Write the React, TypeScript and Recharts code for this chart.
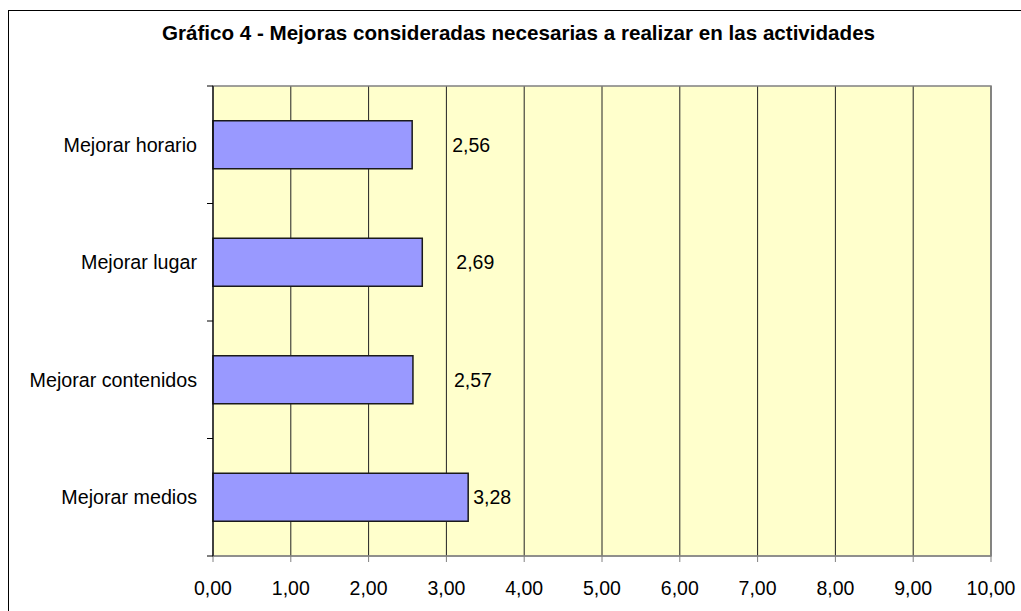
import {
  BarChart,
  Bar,
  XAxis,
  YAxis,
  CartesianGrid,
  ReferenceArea,
  LabelList,
} from "recharts";

const categories = [
  "Mejorar horario",
  "Mejorar lugar",
  "Mejorar contenidos",
  "Mejorar medios",
];
const values = [2.56, 2.69, 2.57, 3.28];
const xTicks = [0, 1, 2, 3, 4, 5, 6, 7, 8, 9, 10];

// gap between bar end and its value label (the labels sit a bit off in the original)
const labelGap = [40, 34, 41, 5];

const data = categories.map((name, i) => ({ name, value: values[i] }));

const fmt = (v: number) => v.toFixed(2).replace(".", ",");
const font = "'Liberation Sans', Arial, sans-serif";
const TICK_MARGIN = 16;
const TICK_LEN = 6;

function ValueLabel(props: any) {
  const { x, y, width, height, value, index } = props;
  return (
    <text
      x={x + width + labelGap[index]}
      y={y + height / 2}
      fontSize={19.5}
      fontFamily={font}
      fill="#000"
      dominantBaseline="central"
    >
      {fmt(value)}
    </text>
  );
}

// category label plus Excel-style tick marks on the band edges
function CatTick(props: any) {
  const { x, y, payload, index, visibleTicksCount } = props;
  const half = payload.offset || 0;
  const ax = x + TICK_MARGIN;
  return (
    <g>
      <text
        x={x}
        y={y}
        textAnchor="end"
        dominantBaseline="central"
        fontSize={19.7}
        fontFamily={font}
        fill="#000"
      >
        {payload.value}
      </text>
      <line x1={ax - TICK_LEN} x2={ax} y1={y - half} y2={y - half} stroke="#000" />
      {index === visibleTicksCount - 1 && (
        <line x1={ax - TICK_LEN} x2={ax} y1={y + half} y2={y + half} stroke="#000" />
      )}
    </g>
  );
}

export default function App() {
  return (
    <div
      style={{
        position: "fixed",
        top: 0,
        left: 0,
        width: 1021,
        height: 611,
        overflow: "hidden",
        background: "#fff",
      }}
    >
      <div
        style={{
          position: "absolute",
          left: 8,
          top: 10,
          width: 1040,
          height: 640,
          border: "1px solid #000",
        }}
      />
      <div
        style={{
          position: "absolute",
          left: 8,
          top: 21,
          width: 1021,
          textAlign: "center",
          fontFamily: font,
          fontWeight: "bold",
          fontSize: 20.6,
          lineHeight: "24px",
          color: "#000",
        }}
      >
        Gráfico 4 - Mejoras consideradas necesarias a realizar en las actividades
      </div>
      <div style={{ position: "absolute", left: 0, top: 0 }}>
        <BarChart
          width={1021}
          height={611}
          data={data}
          layout="vertical"
          margin={{ top: 86, right: 30, bottom: 15, left: 0 }}
          barCategoryGap="29.6%"
        >
          <CartesianGrid
            horizontal={false}
            vertical={true}
            stroke="#222"
            fill="#FFFFCC"
            fillOpacity={1}
          />
          <ReferenceArea
            x1={0}
            x2={10}
            fill="none"
            stroke="#808080"
            strokeWidth={1.5}
          />
          <XAxis
            type="number"
            domain={[0, 10]}
            ticks={xTicks}
            tickFormatter={fmt}
            height={40}
            axisLine={{ stroke: "#808080" }}
            tickLine={{ stroke: "#808080" }}
            tickSize={6}
            tickMargin={19}
            tick={{ fontSize: 19.5, fontFamily: font, fill: "#000" }}
            interval={0}
          />
          <YAxis
            type="category"
            dataKey="name"
            width={213}
            axisLine={{ stroke: "#000" }}
            tickLine={false}
            tickSize={0}
            tickMargin={TICK_MARGIN}
            tick={CatTick}
            interval={0}
          />
          <Bar
            dataKey="value"
            fill="#9999FF"
            stroke="#1a1a1a"
            strokeWidth={1.5}
            isAnimationActive={false}
          >
            <LabelList dataKey="value" content={ValueLabel} />
          </Bar>
        </BarChart>
      </div>
    </div>
  );
}
